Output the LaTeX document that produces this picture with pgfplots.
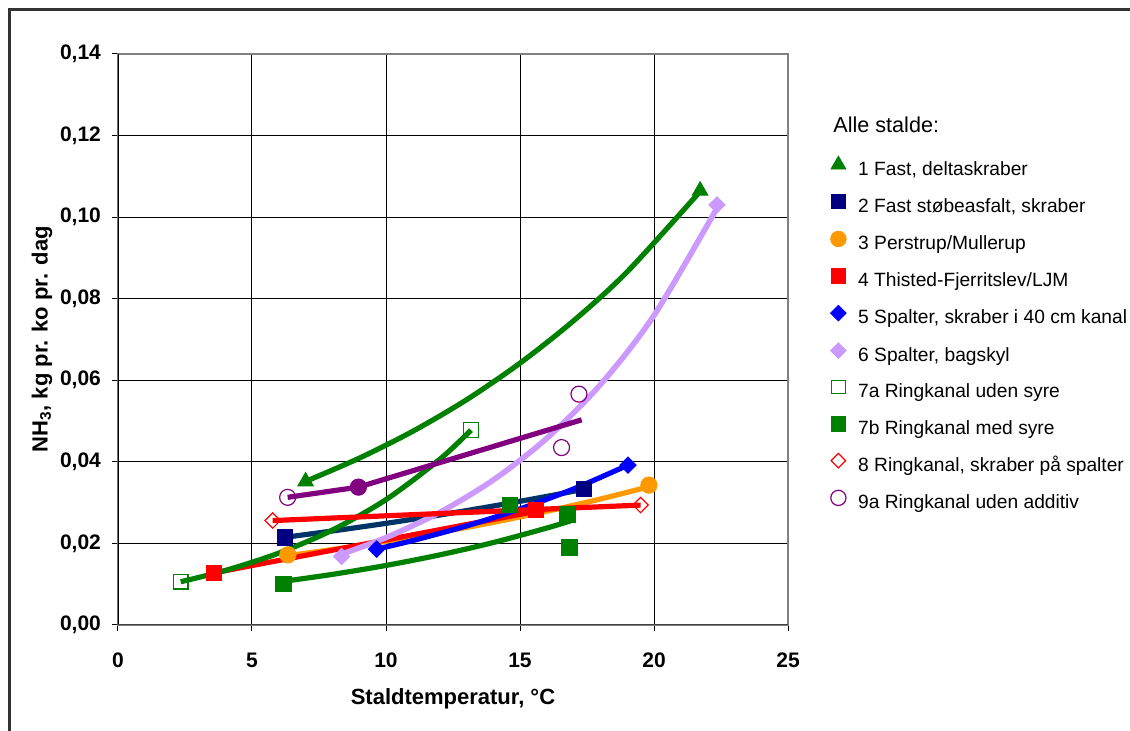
\documentclass[border=0pt]{standalone}
\usepackage{pgfplots}
\pgfplotsset{compat=1.18}
\usepackage{fontspec}
\setmainfont{Liberation Sans}
\definecolor{cGreen}{HTML}{008000}
\definecolor{cNavy}{HTML}{000080}
\definecolor{cNavyL}{HTML}{003366}
\definecolor{cOrange}{HTML}{FF9900}
\definecolor{cRed}{HTML}{FF0000}
\definecolor{cBlue}{HTML}{0000FF}
\definecolor{cLav}{HTML}{CC99FF}
\definecolor{cPurple}{HTML}{800080}
\pgfplotsset{
  lgimg/.style={legend image code/.code={\draw[##1] plot coordinates {(4pt,2.9pt)};}},
  trend/.style={no marks, line width=2.6pt, forget plot, smooth, tension=0.5},
}
\begin{document}
\begin{tikzpicture}
\useasboundingbox (0,0) rectangle (565pt,365.5pt);
\draw[color=black!80, line width=1.5pt] (4.75pt,-1pt) -- (4.75pt,360.5pt) -- (566pt,360.5pt);
\begin{axis}[
  at={(59pt,53pt)}, anchor=south west,
  scale only axis, width=335pt, height=285.5pt,
  xmin=0, xmax=25, ymin=0, ymax=0.14,
  xtick={0,5,10,15,20,25},
  ytick={0,0.02,0.04,0.06,0.08,0.1,0.12,0.14},
  scaled y ticks=false,
  grid=major,
  major grid style={black, line width=0.5pt},
  axis line style={draw=gray, line width=0.8pt},
  tick align=outside, xtick pos=bottom, ytick pos=left,
  major tick length=3pt,
  tick style={black, line width=0.5pt},
  /pgf/number format/assume math mode=true,
  tick label style={font=\bfseries\fontsize{10.5}{12}\selectfont},
  yticklabel style={/pgf/number format/.cd, fixed, fixed zerofill, precision=2, use comma, /tikz/.cd, xshift=-2pt},
  xticklabel style={yshift=-7.5pt},
  xlabel={Staldtemperatur, °C},
  ylabel={NH\textsubscript{3}, kg pr. ko pr. dag},
  label style={font=\bfseries\fontsize{11}{13}\selectfont},
  xlabel style={at={(axis description cs:0.5,-0.13)}, anchor=center},
  ylabel style={at={(axis description cs:-0.1134,0.5)}, anchor=center, rotate=0},
  legend style={at={(axis description cs:1.063,0.8217)}, anchor=north west,
    draw=none, fill=none, inner sep=0pt, row sep=7.4pt,
    font=\fontsize{9.6}{11}\selectfont,
    nodes={inner sep=0pt, text height=7pt, text depth=2pt},
    /tikz/every odd column/.append style={column sep=6pt}},
  legend cell align=left,
  legend image post style={every mark/.append style={scale=0.95}},
]
% ---- markers ----
\addplot[only marks, lgimg, mark=triangle*, mark size=4.5pt, color=cGreen] coordinates {(7.0,0.0352) (21.72,0.1065)};
\addlegendentry{1 Fast, deltaskraber}
\addplot[only marks, lgimg, mark=square*, mark size=3.8pt, color=cNavy] coordinates {(6.23,0.0215) (17.39,0.0333)};
\addlegendentry{2 Fast støbeasfalt, skraber}
\addplot[only marks, lgimg, mark=*, mark size=4.1pt, color=cOrange] coordinates {(6.34,0.0172) (19.81,0.0343)};
\addlegendentry{3 Perstrup/Mullerup}
\addplot[only marks, lgimg, mark=square*, mark size=3.8pt, color=cRed] coordinates {(3.59,0.0128) (15.6,0.0282)};
\addlegendentry{4 Thisted-Fjerritslev/LJM}
\addplot[only marks, lgimg, mark=square*, mark size=2.9pt, color=cBlue, mark options={rotate=45}] coordinates {(9.65,0.0186) (19.03,0.0392)};
\addlegendentry{5 Spalter, skraber i 40 cm kanal}
\addplot[only marks, lgimg, mark=square*, mark size=2.9pt, color=cLav, mark options={rotate=45}] coordinates {(8.34,0.0168) (22.35,0.1030)};
\addlegendentry{6 Spalter, bagskyl}
\addplot[only marks, lgimg, mark=square, mark size=3.6pt, color=cGreen, mark options={fill=white, line width=0.6pt}] coordinates {(2.34,0.0106) (13.17,0.0478)};
\addlegendentry{7a Ringkanal uden syre}
\addplot[only marks, lgimg, mark=square*, mark size=3.8pt, color=cGreen] coordinates {(6.17,0.0100) (14.63,0.0294) (16.77,0.0271) (16.84,0.0190)};
\addlegendentry{7b Ringkanal med syre}
\addplot[only marks, lgimg, mark=square, mark size=2.7pt, color=cRed, mark options={rotate=45, fill=white, line width=0.6pt}] coordinates {(5.77,0.0256) (19.5,0.0294)};
\addlegendentry{8 Ringkanal, skraber på spalter}
\addplot[only marks, lgimg, mark=o, mark size=4pt, color=cPurple, mark options={fill=white, line width=0.6pt}] coordinates {(6.33,0.0313) (16.55,0.0435) (17.2,0.0566)};
\addlegendentry{9a Ringkanal uden additiv}
\addplot[only marks, forget plot, mark=*, mark size=4.1pt, color=cPurple] coordinates {(8.97,0.0338)};
% ---- trend lines ----
\addplot[trend, color=cGreen] coordinates {(7,0.0352) (9,0.0409) (11,0.0475) (13,0.0552) (15,0.0642) (17,0.0746) (19,0.0866) (21.72,0.1063)};
\addplot[trend, color=cNavyL] coordinates {(6.23,0.0215) (8,0.02305) (10,0.02492) (12,0.02696) (14,0.02916) (16,0.03153) (17.39,0.0333)};
\addplot[trend, color=cOrange] coordinates {(6.34,0.0170) (8,0.01851) (10,0.02050) (12,0.02272) (14,0.02516) (16,0.02788) (18,0.03088) (19.81,0.0339)};
\addplot[trend, color=cRed] coordinates {(3.59,0.0128) (15.93,0.0283)};
\addplot[trend, color=cBlue] coordinates {(9.65,0.0186) (11,0.02071) (13,0.02428) (15,0.02846) (17,0.03336) (19.03,0.0392)};
\addplot[trend, color=cLav, line width=2.8pt] coordinates {(8.34,0.01737) (10,0.02142) (12,0.02759) (14,0.03554) (16,0.04577) (18,0.05894) (20,0.07591) (22.35,0.1022)};
\addplot[trend, color=cGreen] coordinates {(2.34,0.0106) (4,0.01335) (6,0.01763) (8,0.02328) (10,0.03074) (12,0.04059) (13.17,0.04777)};
\addplot[trend, color=cGreen] coordinates {(6.17,0.0107) (8,0.01241) (10,0.0146) (12,0.01718) (14,0.02021) (16,0.02377) (16.87,0.0255)};
\addplot[trend, color=cRed] coordinates {(5.77,0.0256) (19.5,0.0294)};
\addplot[no marks, line width=2.6pt, forget plot, color=cPurple] coordinates {(6.33,0.0313) (8.97,0.0338) (17.3,0.0503)};
% axis lines
\draw[black, line width=0.6pt] (axis cs:0,0) -- (axis cs:0,0.14);
\draw[black!75, line width=1pt] (axis cs:0,0) -- (axis cs:25,0);
\end{axis}
\node[anchor=west, inner sep=0pt, font=\fontsize{10.8}{13}\selectfont] at (416.5pt,303pt) {Alle stalde:};
\end{tikzpicture}
\end{document}
